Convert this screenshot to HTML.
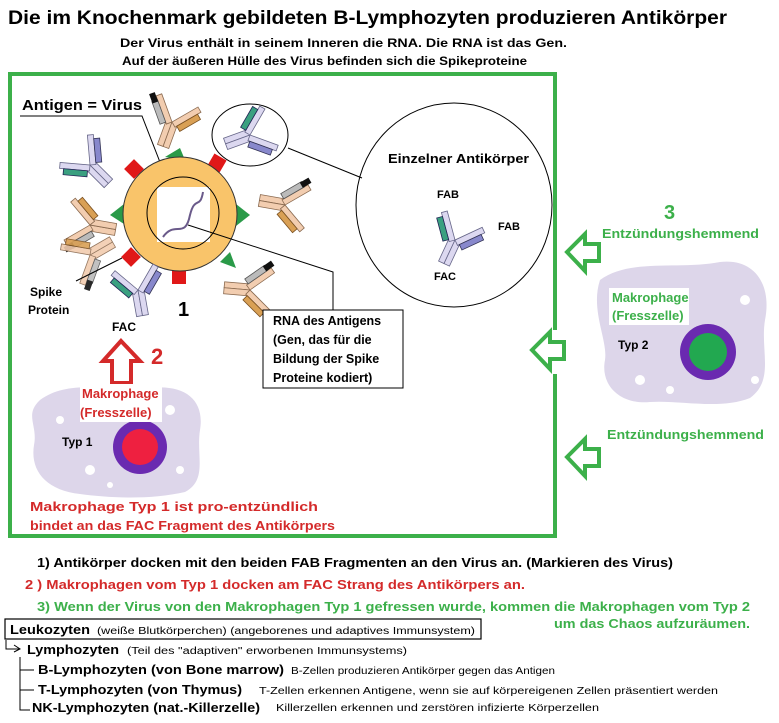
<!DOCTYPE html>
<html><head><meta charset="utf-8"><style>
body{margin:0;background:#fff}
svg text{font-family:"Liberation Sans",sans-serif;font-weight:bold}
</style></head><body>
<svg width="779" height="718" viewBox="0 0 779 718" xmlns="http://www.w3.org/2000/svg">
<defs>
<g id="abT">
  <rect x="-6" y="0" width="6" height="26" fill="#f2cdb0" stroke="#8a6a50" stroke-width="0.8"/>
  <rect x="0" y="0" width="6" height="26" fill="#f2cdb0" stroke="#8a6a50" stroke-width="0.8"/>
  <g transform="rotate(-40)"><rect x="-6" y="-30" width="6" height="30" fill="#f2cdb0" stroke="#8a6a50" stroke-width="0.8"/><rect x="-12" y="-26" width="6" height="24" fill="#bbb" stroke="#555" stroke-width="0.8"/><rect x="-12" y="-34" width="6" height="10" fill="#111"/></g>
  <g transform="rotate(40)"><rect x="0" y="-30" width="6" height="30" fill="#f2cdb0" stroke="#8a6a50" stroke-width="0.8"/><rect x="6" y="-26" width="6" height="24" fill="#d9a055" stroke="#7a5020" stroke-width="0.8"/></g>
</g>
<g id="abL">
  <rect x="-6" y="0" width="6" height="26" fill="#dcd8f0" stroke="#666688" stroke-width="0.8"/>
  <rect x="0" y="0" width="6" height="26" fill="#dcd8f0" stroke="#666688" stroke-width="0.8"/>
  <g transform="rotate(-40)"><rect x="-6" y="-30" width="6" height="30" fill="#dcd8f0" stroke="#666688" stroke-width="0.8"/><rect x="-12" y="-26" width="6" height="24" fill="#3aa080" stroke="#225" stroke-width="0.8"/></g>
  <g transform="rotate(40)"><rect x="0" y="-30" width="6" height="30" fill="#dcd8f0" stroke="#666688" stroke-width="0.8"/><rect x="6" y="-26" width="6" height="24" fill="#8888cc" stroke="#335" stroke-width="0.8"/></g>
</g>
</defs>

<text x="8" y="24" font-size="19" textLength="719" lengthAdjust="spacingAndGlyphs">Die im Knochenmark gebildeten B-Lymphozyten produzieren Antikörper</text>
<text x="120" y="47" font-size="12" textLength="447" lengthAdjust="spacingAndGlyphs">Der Virus enthält in seinem Inneren die RNA. Die RNA ist das Gen.</text>
<text x="122" y="65" font-size="12" textLength="405" lengthAdjust="spacingAndGlyphs">Auf der äußeren Hülle des Virus befinden sich   die Spikeproteine</text>

<path d="M555 330 V74 H10 V536 H555 V374" fill="none" stroke="#3cb04a" stroke-width="4"/>

<text x="22" y="110" font-size="15" textLength="120" lengthAdjust="spacingAndGlyphs">Antigen = Virus</text>
<polyline points="20,116 142,116 165,175" fill="none" stroke="#000" stroke-width="1"/>

<polygon points="165,157 180,148 185,160" fill="#2a9a48"/>
<polygon points="110,215 124,204 124,224" fill="#2a9a48"/>
<polygon points="250,215 236,204 236,226" fill="#2a9a48"/>
<polygon points="220,262 230,252 236,268" fill="#2a9a48"/>
<rect x="127" y="162" width="14" height="14" fill="#e01818" transform="rotate(45 134 169)"/>
<rect x="210" y="156" width="14" height="14" fill="#e01818" transform="rotate(30 217 163)"/>
<rect x="124" y="250" width="14" height="14" fill="#e01818" transform="rotate(45 131 257)"/>
<rect x="172" y="270" width="14" height="14" fill="#e01818"/>

<circle cx="180" cy="214" r="57" fill="#f9c46a" stroke="#333" stroke-width="1"/>
<rect x="157" y="187" width="53" height="55" fill="#fff"/>
<circle cx="183" cy="213" r="36" fill="none" stroke="#000" stroke-width="1"/>
<path d="M163 237 C175 220,185 240,190 215 C195 195,200 210,203 192" fill="none" stroke="#6a5a8a" stroke-width="2"/>

<use href="#abT" transform="translate(172,122) rotate(20)"/>
<use href="#abL" transform="translate(90,165) rotate(-45)"/>
<use href="#abL" transform="translate(250,135) rotate(70)"/>
<use href="#abT" transform="translate(90,225) rotate(-80)"/>
<use href="#abT" transform="translate(285,205) rotate(100)"/>
<use href="#abT" transform="translate(250,290) rotate(95)"/>
<use href="#abL" transform="translate(138,290) rotate(-10)"/>
<use href="#abT" transform="translate(90,255) rotate(-120)" opacity="0.9"/>

<ellipse cx="250" cy="135" rx="38" ry="31" fill="none" stroke="#000" stroke-width="1"/>
<line x1="288" y1="148" x2="362" y2="178" stroke="#000" stroke-width="1"/>
<ellipse cx="454" cy="205" rx="98" ry="102" fill="none" stroke="#000" stroke-width="1"/>
<text x="388" y="163" font-size="13" textLength="141" lengthAdjust="spacingAndGlyphs">Einzelner Antikörper</text>
<text x="437" y="198" font-size="11">FAB</text>
<text x="498" y="230" font-size="11">FAB</text>
<text x="434" y="280" font-size="11">FAC</text>
<use href="#abL" transform="translate(455,240) rotate(25)"/>

<polyline points="188,225 333,272 333,310" fill="none" stroke="#000" stroke-width="1"/>
<rect x="263" y="310" width="140" height="78" fill="#fff" stroke="#000" stroke-width="1"/>
<text font-size="12.5"><tspan x="273" y="325">RNA des Antigens</tspan><tspan x="273" y="344">(Gen, das für die</tspan><tspan x="273" y="363">Bildung der Spike</tspan><tspan x="273" y="382">Proteine kodiert)</tspan></text>

<text x="178" y="316" font-size="20">1</text>
<line x1="76" y1="281" x2="122" y2="258" stroke="#000" stroke-width="1"/>
<text x="30" y="296" font-size="12">Spike</text>
<text x="28" y="314" font-size="12">Protein</text>
<text x="112" y="331" font-size="12">FAC</text>

<path d="M121 341 L140 361 L131 361 L131 383 L112 383 L112 361 L103 361 Z" fill="#fff" stroke="#d42a2a" stroke-width="4"/>
<text x="151" y="364" font-size="22" fill="#d42a2a">2</text>

<path d="M40 400 C70 378,110 392,150 388 C185 384,205 400,200 430 C196 455,208 480,185 492 C150 500,110 498,80 494 C45 490,30 470,34 445 C38 425,24 415,40 400Z" fill="#ddd6ea"/>
<circle cx="60" cy="420" r="4" fill="#fff"/><circle cx="170" cy="410" r="5" fill="#fff"/><circle cx="90" cy="470" r="5" fill="#fff"/><circle cx="180" cy="470" r="4" fill="#fff"/><circle cx="110" cy="485" r="3" fill="#fff"/>
<circle cx="140" cy="447" r="27" fill="#6a2ab0"/>
<circle cx="140" cy="447" r="18" fill="#ee2040"/>
<rect x="80" y="384" width="82" height="38" fill="#fff"/>
<text x="82" y="398" font-size="13" fill="#d42a2a">Makrophage</text>
<text x="80" y="417" font-size="13" fill="#d42a2a">(Fresszelle)</text>
<text x="62" y="446" font-size="12">Typ 1</text>
<text x="30" y="511" font-size="13" fill="#d42a2a" textLength="288" lengthAdjust="spacingAndGlyphs">Makrophage Typ 1 ist pro-entzündlich</text>
<text x="30" y="530" font-size="13" fill="#d42a2a" textLength="305" lengthAdjust="spacingAndGlyphs">bindet an das FAC Fragment  des Antikörpers</text>

<text x="664" y="219" font-size="20" fill="#3cb04a">3</text>
<text x="602" y="238" font-size="12.5" fill="#3cb04a" textLength="157" lengthAdjust="spacingAndGlyphs">Entzündungshemmend</text>
<path d="M567 252 L585 234 L585 244 L599 244 L599 261 L585 261 L585 271 Z" fill="#fff" stroke="#3cb04a" stroke-width="4"/>
<path d="M532 350 L550 332 L550 342 L564 342 L564 359 L550 359 L550 369 Z" fill="#fff" stroke="#3cb04a" stroke-width="4"/>
<text x="607" y="439" font-size="12.5" fill="#3cb04a" textLength="157" lengthAdjust="spacingAndGlyphs">Entzündungshemmend</text>
<path d="M567 457 L585 439 L585 449 L599 449 L599 466 L585 466 L585 476 Z" fill="#fff" stroke="#3cb04a" stroke-width="4"/>

<path d="M600 280 C630 258,680 270,720 262 C755 258,772 285,765 320 C760 350,775 380,750 398 C720 410,680 400,650 402 C620 405,600 385,605 360 C608 340,590 310,600 280Z" fill="#ddd6ea"/>
<circle cx="640" cy="380" r="5" fill="#fff"/><circle cx="745" cy="300" r="5" fill="#fff"/><circle cx="670" cy="390" r="4" fill="#fff"/><circle cx="755" cy="380" r="4" fill="#fff"/>
<circle cx="708" cy="352" r="28" fill="#6a2ab0"/>
<circle cx="708" cy="352" r="19" fill="#22a850"/>
<rect x="609" y="288" width="80" height="37" fill="#fff"/>
<text x="612" y="302" font-size="13" fill="#3cb04a">Makrophage</text>
<text x="612" y="320" font-size="13" fill="#3cb04a">(Fresszelle)</text>
<text x="618" y="349" font-size="12">Typ 2</text>

<text x="37" y="567" font-size="13" textLength="636" lengthAdjust="spacingAndGlyphs">1) Antikörper docken mit den beiden FAB Fragmenten an den Virus an. (Markieren des Virus)</text>
<text x="25" y="589" font-size="13" fill="#d42a2a" textLength="500" lengthAdjust="spacingAndGlyphs">2 ) Makrophagen vom Typ 1 docken am FAC Strang des Antikörpers an.</text>
<text x="37" y="611" font-size="13" fill="#3cb04a" textLength="713" lengthAdjust="spacingAndGlyphs">3) Wenn der Virus von den Makrophagen Typ 1 gefressen wurde, kommen die Makrophagen vom Typ 2</text>
<text x="554" y="628" font-size="13" fill="#3cb04a" textLength="196" lengthAdjust="spacingAndGlyphs">um das Chaos aufzuräumen.</text>
<rect x="5" y="619" width="476" height="20" fill="none" stroke="#000" stroke-width="1.2"/>
<text x="10" y="634" font-size="12.5" textLength="80" lengthAdjust="spacingAndGlyphs">Leukozyten</text>
<text x="97" y="634" font-size="10" style="font-weight:normal" textLength="378" lengthAdjust="spacingAndGlyphs">(weiße Blutkörperchen) (angeborenes und adaptives Immunsystem)</text>
<polyline points="6,640 6,649 20,649" fill="none" stroke="#000"/>
<polyline points="14,645 20,649 14,652" fill="none" stroke="#000"/>
<text x="27" y="654" font-size="12.5" textLength="92" lengthAdjust="spacingAndGlyphs">Lymphozyten</text>
<text x="127" y="654" font-size="10" style="font-weight:normal" textLength="280" lengthAdjust="spacingAndGlyphs">(Teil des "adaptiven"  erworbenen Immunsystems)</text>
<polyline points="20,657 20,710 30,710" fill="none" stroke="#000"/>
<line x1="20" y1="670" x2="34" y2="670" stroke="#000"/>
<line x1="20" y1="690" x2="34" y2="690" stroke="#000"/>
<text x="38" y="674" font-size="12.5" textLength="246" lengthAdjust="spacingAndGlyphs">B-Lymphozyten (von Bone marrow)</text>
<text x="291" y="674" font-size="10" style="font-weight:normal" textLength="264" lengthAdjust="spacingAndGlyphs">B-Zellen produzieren Antikörper gegen das Antigen</text>
<text x="38" y="694" font-size="12.5" textLength="204" lengthAdjust="spacingAndGlyphs">T-Lymphozyten (von Thymus)</text>
<text x="259" y="694" font-size="10" style="font-weight:normal" textLength="459" lengthAdjust="spacingAndGlyphs">T-Zellen erkennen Antigene, wenn sie auf körpereigenen Zellen präsentiert werden</text>
<text x="32" y="712" font-size="12.5" textLength="228" lengthAdjust="spacingAndGlyphs">NK-Lymphozyten (nat.-Killerzelle)</text>
<text x="276" y="711" font-size="10" style="font-weight:normal" textLength="323" lengthAdjust="spacingAndGlyphs">Killerzellen erkennen und zerstören infizierte Körperzellen</text>
</svg>
</body></html>
